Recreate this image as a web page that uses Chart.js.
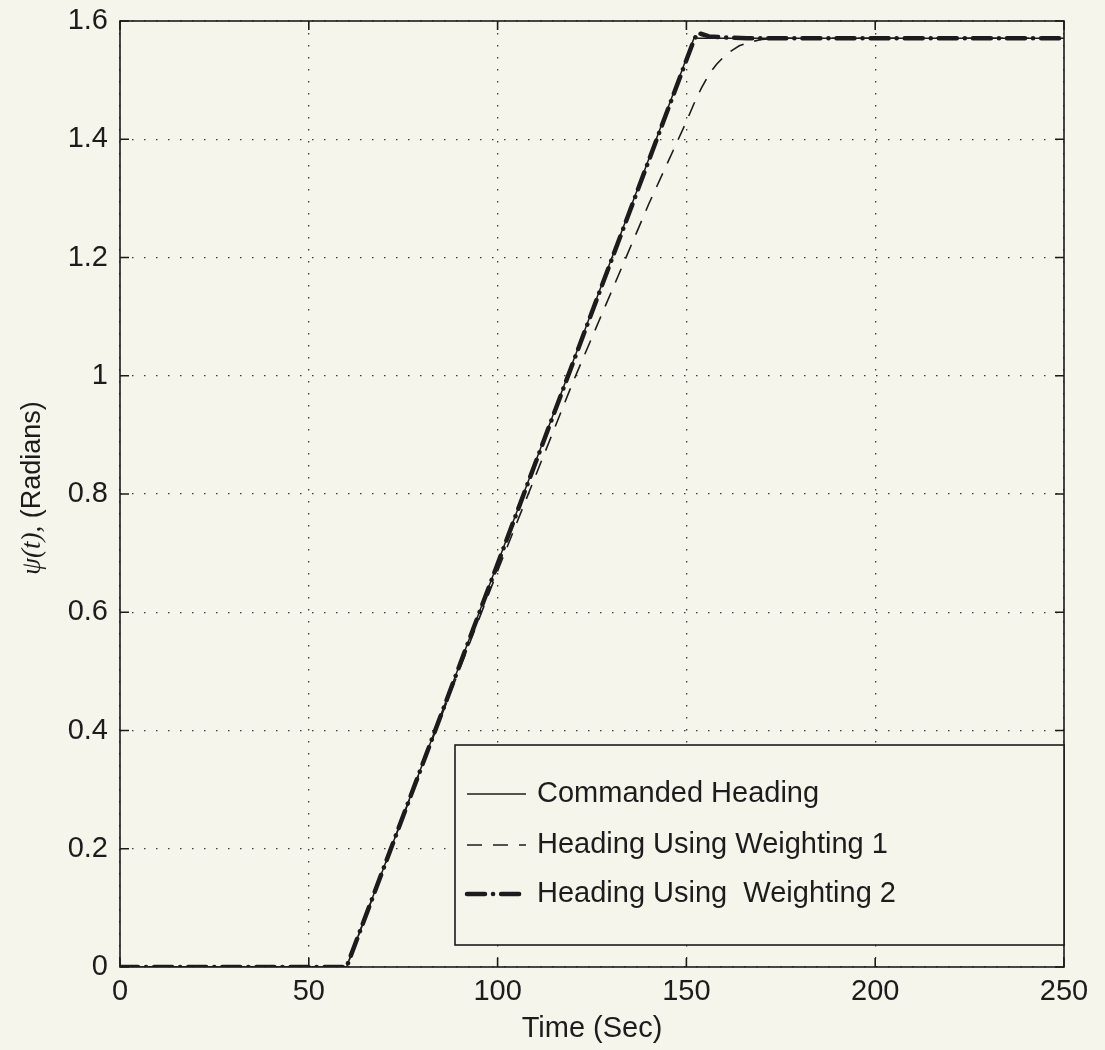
<!DOCTYPE html>
<html>
<head>
<meta charset="utf-8">
<script src="https://cdn.jsdelivr.net/npm/chart.js@4.4.1/dist/chart.umd.min.js"></script>
<style>
  html, body { margin: 0; padding: 0; background: #f5f5ec; }
  #wrap { width: 1105px; height: 1050px; }
</style>
</head>
<body>
<div id="wrap"><canvas id="headingChart" width="1105" height="1050"></canvas></div>
<script>
// Heading response, values
const timeCommanded = [0, 60, 152, 250];
const headingCommanded = [0, 0, 1.5708, 1.5708];

const timeWeight1 = [0, 60, 70, 80, 90, 100, 110, 120, 130, 140, 145, 150, 152, 154, 156, 158, 160, 162, 164, 166, 168, 170, 174, 250];
const headingWeight1 = [0, 0, 0.17, 0.34, 0.505, 0.67, 0.83, 0.99, 1.14, 1.29, 1.36, 1.43, 1.46, 1.487, 1.51, 1.527, 1.54, 1.55, 1.558, 1.563, 1.566, 1.569, 1.5708, 1.5708];

const timeWeight2 = [0, 60, 152, 153, 154, 156, 160, 166, 250];
const headingWeight2 = [0, 0, 1.568, 1.58, 1.578, 1.574, 1.572, 1.5708, 1.5708];

const xTicks = [0, 50, 100, 150, 200, 250];
const yTicks = [0, 0.2, 0.4, 0.6, 0.8, 1, 1.2, 1.4, 1.6];

const legendLabels = ['Commanded Heading', 'Heading Using Weighting 1', 'Heading Using  Weighting 2'];

const FONT = "'Liberation Sans', Arial, Helvetica, sans-serif";
const SERIF = "'Liberation Serif', 'Times New Roman', serif";
const INK = '#1c1c1c';
const BG = '#f5f5ec';

const toPoints = (xs, ys) => xs.map((x, i) => ({ x: x, y: ys[i] }));

// background, frame with inward ticks, y title and the boxed legend
const matlabFrame = {
  id: 'matlabFrame',
  beforeDraw(chart) {
    const ctx = chart.ctx;
    ctx.save();
    ctx.fillStyle = BG;
    ctx.fillRect(0, 0, chart.width, chart.height);
    ctx.restore();
  },
  afterDraw(chart) {
    const ctx = chart.ctx;
    const a = chart.chartArea;
    const xs = chart.scales.x;
    const ys = chart.scales.y;
    const tick = 9;
    ctx.save();
    ctx.strokeStyle = INK;
    ctx.lineWidth = 1.6;
    ctx.setLineDash([]);
    ctx.strokeRect(a.left, a.top, a.right - a.left, a.bottom - a.top);
    ctx.beginPath();
    xTicks.forEach((v) => {
      const px = xs.getPixelForValue(v);
      ctx.moveTo(px, a.bottom); ctx.lineTo(px, a.bottom - tick);
      ctx.moveTo(px, a.top); ctx.lineTo(px, a.top + tick);
    });
    yTicks.forEach((v) => {
      const py = ys.getPixelForValue(v);
      ctx.moveTo(a.left, py); ctx.lineTo(a.left + tick, py);
      ctx.moveTo(a.right, py); ctx.lineTo(a.right - tick, py);
    });
    ctx.stroke();

    // y axis title, psi(t) in italic serif
    ctx.save();
    ctx.translate(33, 488);
    ctx.rotate(-Math.PI / 2);
    ctx.fillStyle = INK;
    ctx.textBaseline = 'middle';
    ctx.textAlign = 'left';
    const p1 = 'ψ(t),';
    const p2 = ' (Radians)';
    ctx.font = 'italic 27px ' + SERIF;
    const w1 = ctx.measureText(p1).width;
    ctx.font = '27px ' + FONT;
    const w2 = ctx.measureText(p2).width;
    const start = -(w1 + w2) / 2;
    ctx.font = 'italic 27px ' + SERIF;
    ctx.fillText(p1, start, 0);
    ctx.font = '27px ' + FONT;
    ctx.fillText(p2, start + w1, 0);
    ctx.restore();

    // legend box in the lower right corner
    const bx = 455, by = 745, bw = a.right - 455, bh = 200;
    ctx.fillStyle = BG;
    ctx.fillRect(bx, by, bw, bh);
    ctx.lineWidth = 1.6;
    ctx.strokeRect(bx, by, bw, bh);
    const rows = [794, 845, 894];
    chart.data.datasets.forEach((ds, i) => {
      ctx.save();
      ctx.strokeStyle = ds.borderColor;
      ctx.lineWidth = ds.borderWidth;
      ctx.lineCap = ds.borderCapStyle || 'butt';
      ctx.setLineDash(ds.borderDash || []);
      ctx.beginPath();
      ctx.moveTo(467, rows[i]);
      ctx.lineTo(526, rows[i]);
      ctx.stroke();
      ctx.restore();
      ctx.fillStyle = INK;
      ctx.font = '29px ' + FONT;
      ctx.textBaseline = 'middle';
      ctx.textAlign = 'left';
      ctx.fillText(legendLabels[i], 537, rows[i]);
    });
    ctx.restore();
  }
};

new Chart(document.getElementById('headingChart'), {
  type: 'line',
  data: {
    datasets: [
      {
        label: legendLabels[0],
        data: toPoints(timeCommanded, headingCommanded),
        borderColor: INK,
        borderWidth: 1.5,
        pointRadius: 0,
        tension: 0,
      },
      {
        label: legendLabels[1],
        data: toPoints(timeWeight1, headingWeight1),
        borderColor: INK,
        borderWidth: 1.6,
        borderDash: [15, 11],
        pointRadius: 0,
        tension: 0,
      },
      {
        label: legendLabels[2],
        data: toPoints(timeWeight2, headingWeight2),
        borderColor: INK,
        borderWidth: 4.5,
        borderDash: [18, 8, 0.1, 8],
        borderCapStyle: 'round',
        pointRadius: 0,
        tension: 0,
      },
    ],
  },
  options: {
    responsive: false,
    animation: false,
    layout: { padding: { left: 0, right: 41, top: 21, bottom: 0 } },
    plugins: {
      legend: { display: false },
      tooltip: { enabled: false },
    },
    scales: {
      x: {
        type: 'linear',
        min: 0,
        max: 250,
        afterFit: (s) => { s.height = 83; s.paddingLeft = 0; s.paddingRight = 0; },
        afterBuildTicks: (s) => { s.ticks = xTicks.map((v) => ({ value: v })); },
        ticks: { color: INK, font: { family: FONT, size: 29 }, padding: 8, maxRotation: 0 },
        grid: { color: '#3a3a3a', lineWidth: 1.3, drawTicks: false },
        border: { display: false, dash: [1.5, 10.5] },
        title: { display: true, text: 'Time (Sec)', color: INK, font: { family: FONT, size: 29 }, padding: { top: 0, bottom: 4 } },
      },
      y: {
        type: 'linear',
        min: 0,
        max: 1.6,
        afterFit: (s) => { s.width = 120; s.paddingTop = 0; s.paddingBottom = 0; },
        afterBuildTicks: (s) => { s.ticks = yTicks.map((v) => ({ value: v })); },
        ticks: { color: INK, font: { family: FONT, size: 29 }, padding: 12, callback: (v) => String(v) },
        grid: { color: '#3a3a3a', lineWidth: 1.3, drawTicks: false },
        border: { display: false, dash: [1.5, 10.5] },
      },
    },
  },
  plugins: [matlabFrame],
});
</script>
</body>
</html>
